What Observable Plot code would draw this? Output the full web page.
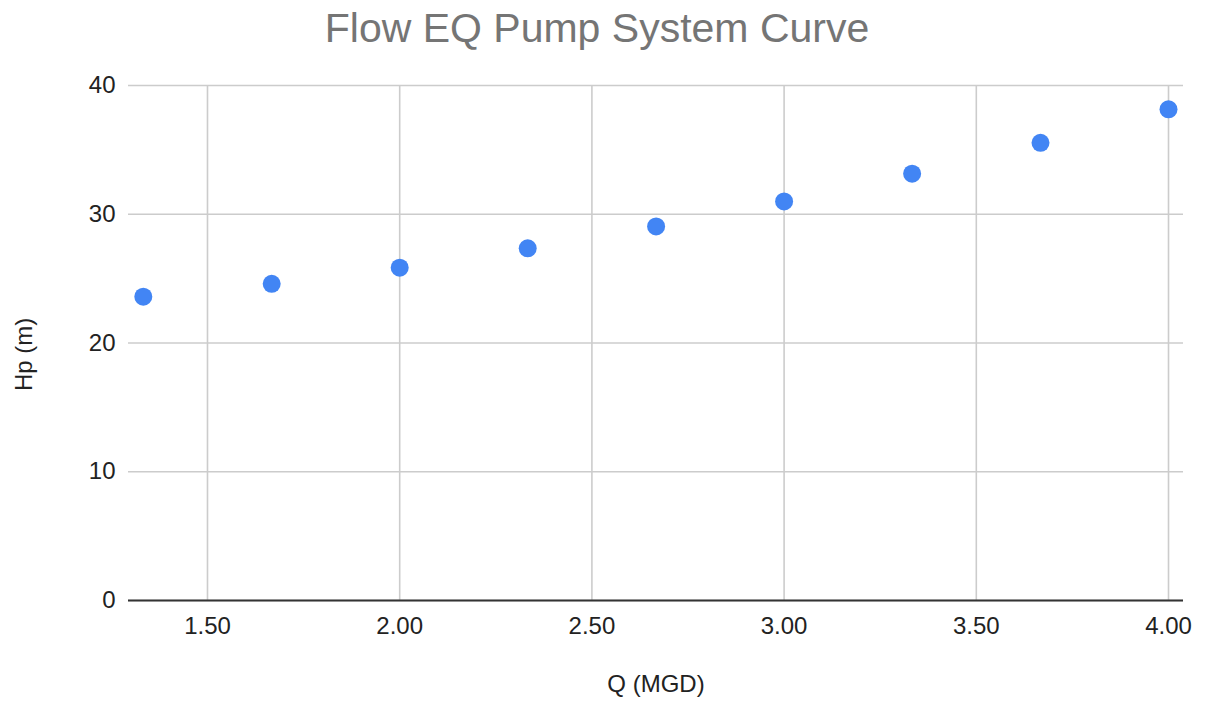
<!DOCTYPE html>
<html>
<head>
<meta charset="utf-8">
<script src="https://cdn.jsdelivr.net/npm/d3@7"></script>
<script src="https://cdn.jsdelivr.net/npm/@observablehq/plot@0.6"></script>
<style>
  html, body { margin: 0; padding: 0; background: #fff; }
  #title {
    width: 1206px; height: 56px; line-height: 56px;
    font-family: "Liberation Sans", Arial, sans-serif;
    font-size: 41px; color: #757575; text-align: center;
    box-sizing: border-box; padding-right: 12px;
    white-space: nowrap;
  }
  svg { display: block; }
</style>
</head>
<body>
<div id="title">Flow EQ Pump System Curve</div>
<div id="chart"></div>
<script>
const titleText = "Flow EQ Pump System Curve";
const xLabel = "Q (MGD)";
const yLabel = "Hp (m)";
const flowQ = [1.333, 1.667, 2.0, 2.333, 2.667, 3.0, 3.333, 3.667, 4.0];
const headHp = [23.6, 24.6, 25.85, 27.35, 29.05, 31.0, 33.15, 35.55, 38.15];
const xTicks = [1.5, 2.0, 2.5, 3.0, 3.5, 4.0];
const yTicks = [0, 10, 20, 30, 40];

const data = flowQ.map((q, i) => ({q, hp: headHp[i]}));

const chart = Plot.plot({
  width: 1206,
  height: 650,
  marginTop: 29,
  marginBottom: 106,
  marginLeft: 128,
  marginRight: 23,
  style: {fontFamily: "'Liberation Sans', Arial, sans-serif", fontSize: "24px", color: "#222", background: "#fff"},
  x: {domain: [1.2945, 4.039]},
  y: {domain: [0, 40]},
  marks: [
    Plot.gridX(xTicks, {stroke: "#cccccc", strokeOpacity: 1, strokeWidth: 1.6}),
    Plot.gridY(yTicks, {stroke: "#cccccc", strokeOpacity: 1, strokeWidth: 1.6}),
    Plot.ruleY([0], {stroke: "#333", strokeWidth: 2}),
    Plot.axisX(xTicks, {tickSize: 0, tickPadding: 16, tickFormat: d3.format(".2f"), label: null, fill: "#222", fontSize: 24}),
    Plot.axisY(yTicks, {tickSize: 0, tickPadding: 13, label: null, fill: "#222", fontSize: 24}),
    Plot.dot(data, {x: "q", y: "hp", r: 9, fill: "#4285F4", stroke: "none"}),
    Plot.text([xLabel], {frameAnchor: "bottom", dy: 91, fill: "#222", fontSize: 24, text: d => d}),
    Plot.text([yLabel], {frameAnchor: "left", dx: -104, dy: 48, rotate: -90, fill: "#222", fontSize: 24, text: d => d})
  ]
});
document.getElementById("chart").appendChild(chart);
</script>
</body>
</html>
